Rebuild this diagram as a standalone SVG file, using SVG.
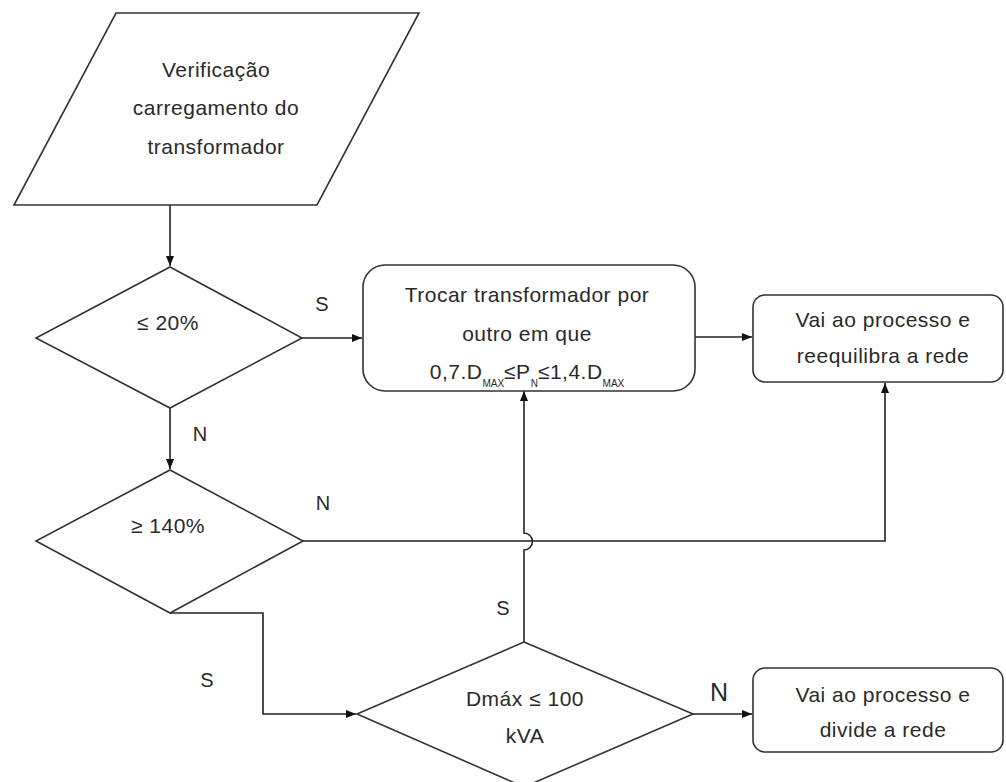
<svg xmlns="http://www.w3.org/2000/svg" width="1006" height="782" viewBox="0 0 1006 782">
<defs>
<marker id="arr" viewBox="0 0 10 10" refX="10" refY="5" markerWidth="10" markerHeight="10" markerUnits="userSpaceOnUse" orient="auto">
<path d="M0,1 L10,5 L0,9 Z" fill="#111"/>
</marker>
</defs>
<style>
.shape{fill:#fff;stroke:#333;stroke-width:1.6}
.t{font-family:"Liberation Sans",Arial,sans-serif;font-size:21px;letter-spacing:0.5px;fill:#2a2a2a;text-anchor:middle}
.lbl{font-family:"Liberation Sans",Arial,sans-serif;font-size:20px;fill:#2a2a2a;text-anchor:middle}
.sub{font-size:10px;letter-spacing:0}
.c{fill:none;stroke:#222;stroke-width:1.6}
</style>
<rect width="1006" height="782" fill="#fff"/>
<g id="connectors">
<path class="c" d="M170,205 V266" marker-end="url(#arr)"/>
<path class="c" d="M302,338 H362" marker-end="url(#arr)"/>
<path class="c" d="M170,408 V469" marker-end="url(#arr)"/>
<path class="c" d="M695,337 H752" marker-end="url(#arr)"/>
<path class="c" d="M303,541 H885 V383" marker-end="url(#arr)"/>
<path class="c" d="M524,642 V550 A8.5,8.5 0 0 0 524,533 V391" marker-end="url(#arr)"/>
<path class="c" d="M170,613 H263 V714 H356" marker-end="url(#arr)"/>
<path class="c" d="M693,714 H752" marker-end="url(#arr)"/>
</g>
<g id="start">
<polygon class="shape" points="116,13 419,13 317,205 14,205"/>
<text class="t" x="216" y="77">Verificação</text>
<text class="t" x="216" y="115">carregamento do</text>
<text class="t" x="216" y="154">transformador</text>
</g>
<g id="d1">
<polygon class="shape" points="170,267 302,338 170,408 36,338"/>
<text class="t" x="168" y="330">≤ 20%</text>
</g>
<g id="d2">
<polygon class="shape" points="170,470 303,541 170,613 36,541"/>
<text class="t" x="168" y="533">≥ 140%</text>
</g>
<g id="d3">
<polygon class="shape" points="524,642 693,714 524,787 357,714"/>
<text class="t" x="525" y="706">Dmáx ≤ 100</text>
<text class="t" x="525" y="743">kVA</text>
</g>
<g id="r1">
<rect class="shape" x="363" y="265" width="332" height="126" rx="22" ry="22"/>
<text class="t" x="527" y="302">Trocar transformador por</text>
<text class="t" x="527" y="341">outro em que</text>
<text class="t" x="527" y="379">0,7.D<tspan class="sub" dy="8">MAX</tspan><tspan dy="-8">≤P</tspan><tspan class="sub" dy="8">N</tspan><tspan dy="-8">≤1,4.D</tspan><tspan class="sub" dy="8">MAX</tspan></text>
</g>
<g id="r2">
<rect class="shape" x="753" y="295" width="250" height="87" rx="12" ry="12"/>
<text class="t" x="883" y="327">Vai ao processo e</text>
<text class="t" x="883" y="363">reequilibra a rede</text>
</g>
<g id="r3">
<rect class="shape" x="753" y="668" width="250" height="84" rx="12" ry="12"/>
<text class="t" x="883" y="702">Vai ao processo e</text>
<text class="t" x="883" y="737">divide a rede</text>
</g>
<g id="labels">
<text class="lbl" x="322" y="311">S</text>
<text class="lbl" x="200" y="441">N</text>
<text class="lbl" x="323" y="510">N</text>
<text class="lbl" x="503" y="615">S</text>
<text class="lbl" x="207" y="687">S</text>
<text class="lbl" x="719" y="701" style="font-size:25px">N</text>
</g>
</svg>
